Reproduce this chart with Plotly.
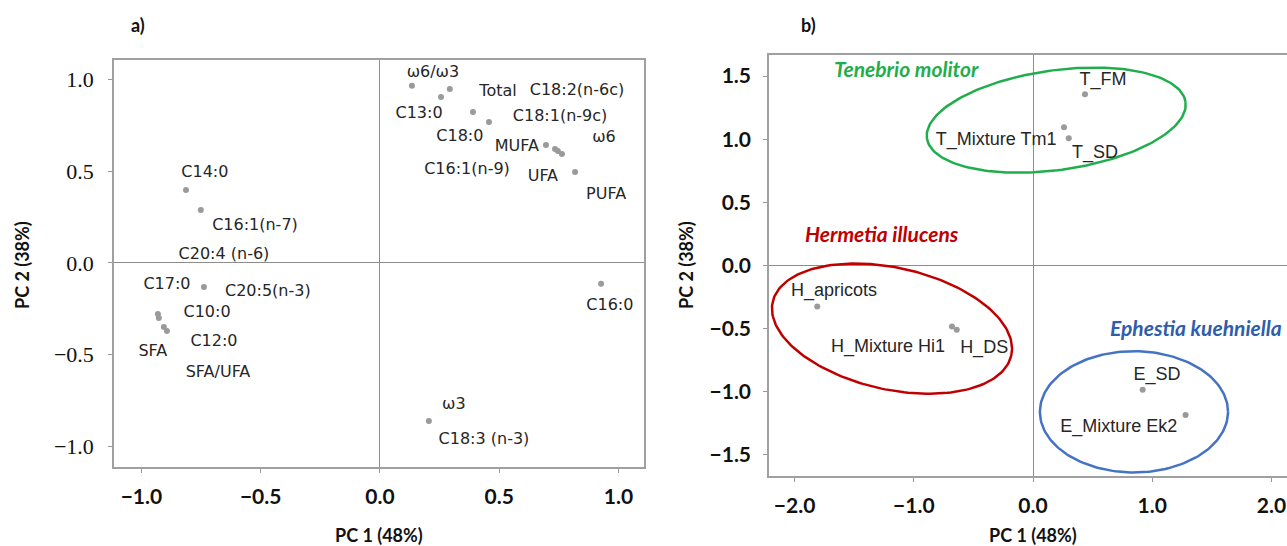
import numpy as np
import plotly.graph_objects as go

# ---------------- Panel a) loadings ----------------
a_pc1 = [0.134, 0.293, 0.256, 0.390, 0.457, 0.696, 0.734, 0.746, 0.763, 0.818,
         -0.813, -0.751, -0.738, -0.931, -0.927, -0.906, -0.893, 0.927, 0.205]
a_pc2 = [0.965, 0.948, 0.905, 0.823, 0.768, 0.643, 0.621, 0.610, 0.594, 0.496,
         0.398, 0.289, -0.131, -0.278, -0.300, -0.349, -0.371, -0.114, -0.861]

a_labels = ["ω6/ω3", "Total", "C18:2(n-6c)", "C13:0", "C18:1(n-9c)", "C18:0", "ω6",
            "MUFA", "C16:1(n-9)", "UFA", "PUFA", "C14:0", "C16:1(n-7)", "C20:4 (n-6)",
            "C17:0", "C20:5(n-3)", "C10:0", "C12:0", "SFA", "SFA/UFA", "C16:0", "ω3",
            "C18:3 (n-3)"]
a_label_x = [0.222, 0.495, 0.826, 0.164, 0.755, 0.335, 0.939, 0.574, 0.365, 0.683, 0.948,
             -0.734, -0.524, -0.654, -0.893, -0.470, -0.725, -0.696, -0.952, -0.679,
             0.964, 0.310, 0.436]
a_label_y = [1.035, 0.932, 0.937, 0.812, 0.796, 0.687, 0.681, 0.632, 0.507, 0.469, 0.371,
             0.490, 0.202, 0.044, -0.120, -0.158, -0.272, -0.431, -0.485, -0.599,
             -0.234, -0.774, -0.965]

a_ticks = [-1.0, -0.5, 0.0, 0.5, 1.0]
a_ticktext = ["−1.0", "−0.5", "0.0", "0.5", "1.0"]

# ---------------- Panel b) scores ----------------
b_names = ["T_FM", "T_Mixture Tm1", "T_SD", "H_apricots", "H_Mixture Hi1", "H_DS",
           "E_SD", "E_Mixture Ek2"]
b_pc1 = [0.436, 0.26, 0.30, -1.81, -0.68, -0.64, 0.92, 1.28]
b_pc2 = [1.357, 1.095, 1.008, -0.325, -0.484, -0.508, -0.984, -1.183]
b_label_x = [0.587, -0.31, 0.52, -1.67, -1.216, -0.41, 1.04, 0.72]
b_label_y = [1.468, 0.99, 0.89, -0.206, -0.65, -0.66, -0.873, -1.286]

species = ["Tenebrio molitor", "Hermetia illucens", "Ephestia kuehniella"]
species_x = [-1.686, -1.93, 0.630]
species_y = [1.563, 0.254, -0.49]
species_colors = ["#1FAE4B", "#C00000", "#2F5DAA"]

# ellipse: centre, two conjugate semi-diameters (data units)
ell_center = [(0.195, 1.151), (-1.183, -0.50), (0.847, -1.159)]
ell_u = [(1.085, 0.143), (1.001, -0.212), (0.789, 0.0)]
ell_v = [(-0.057, 0.391), (0.112, 0.470), (0.0, 0.48)]
ell_colors = ["#1FAE4B", "#C00000", "#4472C4"]

b_ticks = [-2.0, -1.0, 0.0, 1.0, 2.0]
b_ticktext = ["−2.0", "−1.0", "0.0", "1.0", "2.0"]
b_yticks = [-1.5, -1.0, -0.5, 0.0, 0.5, 1.0, 1.5]
b_yticktext = ["−1.5", "−1.0", "−0.5", "0.0", "0.5", "1.0", "1.5"]

W, H = 1287, 546
fig = go.Figure()

# panel a
fig.add_trace(go.Scatter(x=a_pc1, y=a_pc2, mode="markers", xaxis="x", yaxis="y",
                         marker=dict(size=6, color="#9A9A9A"), showlegend=False))
fig.add_trace(go.Scatter(x=a_label_x, y=a_label_y, mode="text", text=a_labels,
                         xaxis="x", yaxis="y", textposition="middle center",
                         textfont=dict(family="DejaVu Sans", size=16, color="#262626"),
                         showlegend=False))

# panel b ellipses
t = np.linspace(0, 2 * np.pi, 200)
for c, u, v, col in zip(ell_center, ell_u, ell_v, ell_colors):
    ex = c[0] + u[0] * np.cos(t) + v[0] * np.sin(t)
    ey = c[1] + u[1] * np.cos(t) + v[1] * np.sin(t)
    fig.add_trace(go.Scatter(x=ex, y=ey, mode="lines", xaxis="x2", yaxis="y2",
                             line=dict(color=col, width=2.5), showlegend=False,
                             hoverinfo="skip"))

fig.add_trace(go.Scatter(x=b_pc1, y=b_pc2, mode="markers", xaxis="x2", yaxis="y2",
                         marker=dict(size=6, color="#9A9A9A"), text=b_names,
                         showlegend=False))
fig.add_trace(go.Scatter(x=b_label_x, y=b_label_y, mode="text", text=b_names,
                         xaxis="x2", yaxis="y2", textposition="middle center",
                         textfont=dict(family="Liberation Sans", size=18, color="#262626"),
                         showlegend=False))
for s, sx, sy, col in zip(species, species_x, species_y, species_colors):
    fig.add_annotation(x=sx, y=sy, xref="x2", yref="y2", text=f"<b><i>{s}</i></b>",
                       showarrow=False, xanchor="left", yanchor="middle",
                       font=dict(family="Lato", size=21, color=col))

axis_common = dict(showgrid=False, ticks="outside", ticklen=4, tickcolor="#999999",
                   linecolor="#A0A0A0", linewidth=1.5, showline=True,
                   zeroline=True, zerolinecolor="#8C8C8C", zerolinewidth=1)

bold_tick = dict(family="Lato", size=21, color="#111111", weight="bold")

fig.update_layout(
    width=W, height=H, margin=dict(l=0, r=0, t=0, b=0),
    paper_bgcolor="white", plot_bgcolor="white",
    xaxis=dict(domain=[114 / W, 644 / W], range=[-1.115, 1.107], mirror=True,
               tickvals=a_ticks, ticktext=a_ticktext, anchor="y",
               tickfont=bold_tick, ticklabelstandoff=6, **axis_common),
    yaxis=dict(domain=[(H - 467) / H, (H - 60) / H], range=[-1.112, 1.106], mirror=True,
               tickvals=a_ticks, ticktext=a_ticktext, anchor="x",
               tickfont=dict(family="Liberation Serif", size=22, color="#111111"),
               ticklabelstandoff=10, **axis_common),
    xaxis2=dict(domain=[769 / W, 1.0], range=[-2.215, 2.131], mirror=True,
                tickvals=b_ticks, ticktext=b_ticktext, anchor="y2",
                tickfont=bold_tick, ticklabelstandoff=6, **axis_common),
    yaxis2=dict(domain=[(H - 476) / H, (H - 55) / H], range=[-1.667, 1.667],
                tickvals=b_yticks, ticktext=b_yticktext, anchor="x2",
                tickfont=bold_tick, ticklabelstandoff=8, **axis_common),
)

title_font = dict(family="Lato", size=18, color="#111111")
fig.add_annotation(x=379 / W, y=(H - 535) / H, xref="paper", yref="paper",
                   text="<b>PC 1 (48%)</b>", showarrow=False, font=title_font,
                   xanchor="center", yanchor="middle")
fig.add_annotation(x=1033 / W, y=(H - 535) / H, xref="paper", yref="paper",
                   text="<b>PC 1 (48%)</b>", showarrow=False, font=title_font,
                   xanchor="center", yanchor="middle")
fig.add_annotation(x=22 / W, y=(H - 265) / H, xref="paper", yref="paper",
                   text="<b>PC 2 (38%)</b>", showarrow=False, font=title_font,
                   textangle=-90, xanchor="center", yanchor="middle")
fig.add_annotation(x=686 / W, y=(H - 265) / H, xref="paper", yref="paper",
                   text="<b>PC 2 (38%)</b>", showarrow=False, font=title_font,
                   textangle=-90, xanchor="center", yanchor="middle")
fig.add_annotation(x=138 / W, y=(H - 25) / H, xref="paper", yref="paper",
                   text="<b>a)</b>", showarrow=False, font=title_font,
                   xanchor="center", yanchor="middle")
fig.add_annotation(x=808 / W, y=(H - 25) / H, xref="paper", yref="paper",
                   text="<b>b)</b>", showarrow=False, font=title_font,
                   xanchor="center", yanchor="middle")

fig.write_html(
    "out.html",
    config={"displayModeBar": False},
    post_script="document.body.style.margin='0';document.body.style.overflow='hidden';",
)
